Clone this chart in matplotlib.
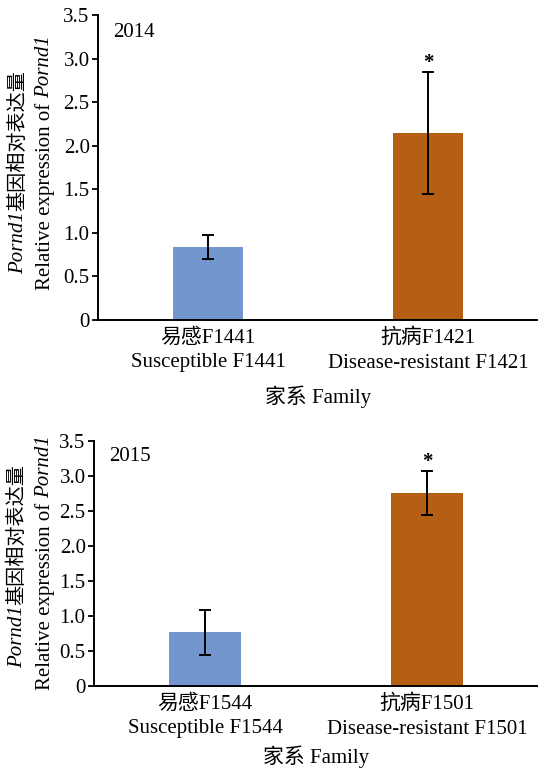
import numpy as np
import matplotlib
matplotlib.use("Agg")
import matplotlib.pyplot as plt

plt.rcParams['font.family'] = ['Liberation Serif', 'Noto Sans CJK SC']

years = ["2014", "2015"]
cats_2014 = ["易感F1441\nSusceptible F1441", "抗病F1421\nDisease-resistant F1421"]
cats_2015 = ["易感F1544\nSusceptible F1544", "抗病F1501\nDisease-resistant F1501"]
vals_2014 = [0.835, 2.15]
err_2014 = [0.14, 0.70]
vals_2015 = [0.77, 2.76]
err_2015 = [0.32, 0.32]
stars = ["", "*"]
colors = ["#7396CE", "#B45F14"]
yticks = [0, 0.5, 1.0, 1.5, 2.0, 2.5, 3.0, 3.5]
ytick_labels = ["0", "0.5", "1.0", "1.5", "2.0", "2.5", "3.0", "3.5"]
gene = "Pornd1"
ylab_cn = "基因相对表达量"
ylab_en = "Relative expression of "
W, H = 538, 774

fig = plt.figure(figsize=(W/100, H/100), dpi=100)
ax1 = fig.add_axes([98/W, 1-320/H, 1-98/W, 305/H])
ax2 = fig.add_axes([94/W, 1-686/H, 1-94/W, 244.7/H])

# ylabel pieces: (x of line1, junction y of line1, x of line2, junction y of line2) in pixels
ylab_pos = [(19, 211, 45, 98), (18, 605, 45, 498)]
xlab_pad = [9, 5]

for ax, yr, cats, vals, errs, lp, xpad in [
        (ax1, years[0], cats_2014, vals_2014, err_2014, ylab_pos[0], xlab_pad[0]),
        (ax2, years[1], cats_2015, vals_2015, err_2015, ylab_pos[1], xlab_pad[1])]:
    x = np.arange(len(vals))
    ax.bar(x, vals, width=0.32, color=colors, zorder=2)
    ax.errorbar(x, vals, yerr=errs, fmt="none", ecolor="black", elinewidth=1.4,
                capsize=4.5, capthick=1.4, zorder=3)
    for xi, v, e, s in zip(x, vals, errs, stars):
        if s:
            ax.annotate(s, xy=(xi, v + e), xytext=(0, 6), textcoords="offset points",
                        ha="center", va="center", fontsize=15, fontweight="bold")
    ax.set_xlim(-0.5, 1.5)
    ax.set_ylim(0, 3.5)
    ax.set_xticks(x)
    ax.set_xticklabels(cats, fontsize=15, linespacing=1.4)
    ax.tick_params(axis="x", length=0, pad=6)
    ax.set_yticks(yticks)
    ax.set_yticklabels(ytick_labels, fontsize=15)
    ax.tick_params(axis="y", direction="out", length=4, width=1.3, pad=2)
    for sp in ["top", "right"]:
        ax.spines[sp].set_visible(False)
    for sp in ["left", "bottom"]:
        ax.spines[sp].set_linewidth(1.4)
    ax.text(0.035, 0.975, yr, transform=ax.transAxes, fontsize=15, va="top", ha="left")
    ax.set_xlabel("家系 Family", fontsize=15, labelpad=xpad)

    x1, j1, x2, j2 = lp
    fig.text(x1/W, 1-j1/H, gene, rotation=90, style="italic", fontsize=15,
             ha="center", va="top")
    fig.text(x1/W, 1-j1/H, ylab_cn, rotation=90, fontsize=14.5, ha="center", va="bottom")
    fig.text(x2/W, 1-j2/H, ylab_en, rotation=90, fontsize=15, ha="center", va="top")
    fig.text(x2/W, 1-j2/H, gene, rotation=90, style="italic", fontsize=15,
             ha="center", va="bottom")

fig.savefig("out.png", dpi=100)
